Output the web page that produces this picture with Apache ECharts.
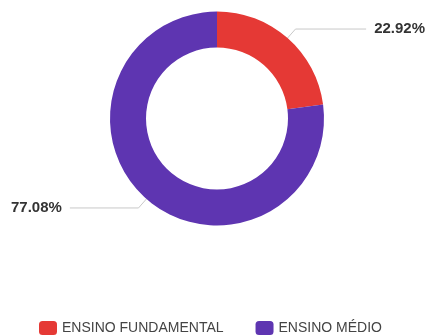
<!DOCTYPE html>
<html><head><meta charset="utf-8">
<script src="https://cdn.jsdelivr.net/npm/echarts@6/dist/echarts.min.js"></script>
<style>html,body{margin:0;padding:0;background:#fff}#c{width:426px;height:336px}</style>
</head><body><div id="c"></div>
<script>
const categories = ['ENSINO FUNDAMENTAL', 'ENSINO MÉDIO'];
const values = [22.92, 77.08];
const colors = ['#E53935', '#5E35B1'];

const chart = echarts.init(document.getElementById('c'), null, {renderer: 'canvas'});
const data = categories.map((n, i) => ({name: n, value: values[i], itemStyle: {color: colors[i]}}));
chart.setOption({
  animation: false,
  legend: {
    data: categories,
    top: 321,
    left: 39,
    padding: 0,
    icon: 'roundRect',
    itemWidth: 18,
    itemHeight: 14,
    itemGap: 32,
    textStyle: {fontFamily: 'Liberation Sans', fontSize: 14, color: '#444'}
  },
  series: [
    {
      type: 'pie',
      radius: [71, 107],
      center: [217, 118.5],
      startAngle: 90,
      clockwise: true,
      silent: true,
      label: {show: false},
      labelLine: {show: false},
      data: data
    },
    {
      type: 'pie',
      left: 10,
      right: 0,
      radius: [0, 90],
      center: [207, 118.5],
      startAngle: 90,
      clockwise: true,
      silent: true,
      itemStyle: {color: 'rgba(0,0,0,0)'},
      label: {
        show: true,
        position: 'outside',
        alignTo: 'edge',
        edgeDistance: 1,
        distanceToLabelLine: 8,
        formatter: p => p.value.toFixed(2) + '%',
        fontFamily: 'Liberation Sans',
        fontSize: 15,
        fontWeight: 'bold',
        color: '#333'
      },
      labelLine: {show: true, length: 29, length2: 20, lineStyle: {color: '#c8c8c8', width: 1}},
      data: categories.map((n, i) => ({name: n, value: values[i], itemStyle: {color: 'rgba(0,0,0,0)'}}))
    }
  ]
});
</script></body></html>
